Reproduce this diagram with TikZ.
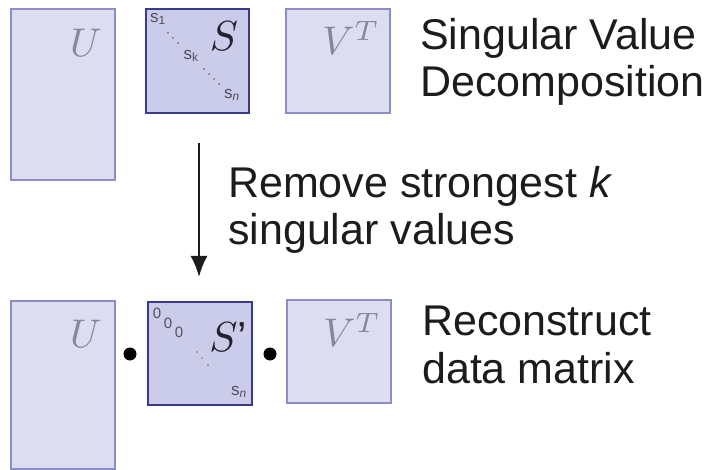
\documentclass[tikz,border=0pt]{standalone}
\usepackage{graphicx}
\usepackage{fontspec}
\setmainfont{Liberation Sans}
\usetikzlibrary{arrows.meta}
\definecolor{ufill}{RGB}{221,221,241}
\definecolor{uborder}{RGB}{140,140,198}
\definecolor{sfill}{RGB}{203,203,234}
\definecolor{sborder}{RGB}{58,58,138}
\definecolor{lblgray}{RGB}{135,135,150}
\definecolor{sdark}{RGB}{35,35,45}
\definecolor{txtcol}{RGB}{28,28,28}
\definecolor{smallgray}{RGB}{80,80,92}
\tikzset{
  ubox/.style={draw=uborder, fill=ufill, line width=1.2pt, inner sep=0pt, outer sep=0pt, anchor=north west},
  sbox/.style={draw=sborder, fill=sfill, line width=2pt, inner sep=0pt, outer sep=0pt, anchor=north west},
  biglbl/.style={text=lblgray, inner sep=0pt},
  slbl/.style={text=sdark, inner sep=0pt},
  small/.style={text=smallgray, inner sep=0pt, font=\fontsize{17}{17}\selectfont},
  zero/.style={text=smallgray, inner sep=0pt, font=\fontsize{15}{15}\selectfont},
  dotc/.style={fill=smallgray!80, draw=none},
  txt/.style={text=txtcol, inner sep=0pt, align=left, anchor=base west, font=\fontsize{43}{47.5}\selectfont},
  bullet/.style={circle, fill=black, inner sep=0pt, minimum size=13pt},
  arr/.style={draw=txtcol, line width=2.4pt, -{Latex[length=21pt,width=17pt]}}
}
\begin{document}
\begin{tikzpicture}[x=1pt,y=-1pt]
\useasboundingbox (0,0) rectangle (717,470);
% top row
\node[ubox, minimum width=104pt, minimum height=171pt] (U1) at (11,9) {};
\node[sbox, minimum width=103pt, minimum height=104pt] (S1) at (146,9) {};
\node[ubox, minimum width=104pt, minimum height=104pt] (V1) at (286,9) {};
\node[biglbl] (U1l) at (86,43) {\scalebox{4}{$U$}};
\node[slbl] (S1l) at (224,36) {\scalebox{4.2}{$S$}};
\node[biglbl] (V1l) at (351,38) {\scalebox{4}{$V^T$}};
\node[small] (s1) at (158,19) {s\textsubscript{1}};
\node[small] (sk) at (191,56) {s\textsubscript{k}};
\node[small] (sn) at (232,95) {s\textsubscript{\itshape n}};
\foreach \p in {(168,33),(173,38),(178,43),(204,69),(209,74),(214,79),(219,84)}
  \fill[dotc] \p circle (1pt);
\node[txt] (t1) at (420,97) {Singular Value\\Decomposition};
% arrow
\coordinate (a1) at (199,143);
\coordinate (a2) at (199,277);
\draw[arr] (a1) -- (a2);
\node[txt] (t2) at (228,245) {Remove strongest \textit{k}\\singular values};
% bottom row
\node[ubox, minimum width=104pt, minimum height=168pt] (U2) at (11,301) {};
\node[bullet] (b1) at (130,354) {};
\node[sbox, minimum width=104pt, minimum height=103pt] (S2) at (148,302) {};
\node[bullet] (b2) at (270,354) {};
\node[ubox, minimum width=104pt, minimum height=103pt] (V2) at (287,300) {};
\node[biglbl] (U2l) at (86,334) {\scalebox{4}{$U$}};
\node[slbl] (S2l) at (228,337) {\scalebox{4.2}{$S$'}};
\node[biglbl] (V2l) at (352,330) {\scalebox{4}{$V^T$}};
\node[zero] (z1) at (157,313) {0};
\node[zero] (z2) at (168,323) {0};
\node[zero] (z3) at (179,332) {0};
\foreach \p in {(197,352),(202,358),(208,365)}
  \fill[dotc] \p circle (0.9pt);
\node[small] (sn2) at (239,392) {s\textsubscript{\itshape n}};
\node[txt] (t3) at (422,383) {Reconstruct\\data matrix};
\end{tikzpicture}
\end{document}
